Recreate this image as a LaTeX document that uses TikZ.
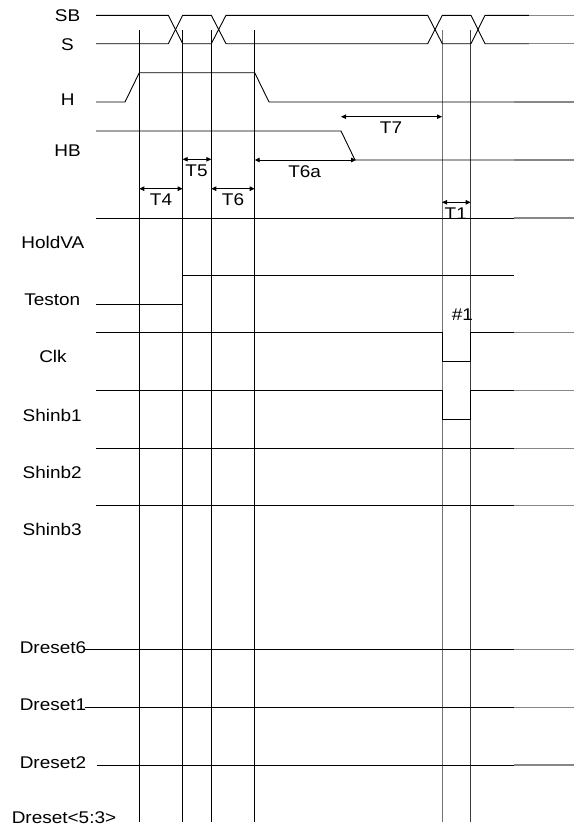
\documentclass[tikz,border=0pt]{standalone}
\usepackage{fontspec}
\setmainfont{Liberation Sans}[FakeStretch=1.12]
\usetikzlibrary{arrows.meta}
\definecolor{tailgray}{RGB}{135,135,135}
\definecolor{midgray}{RGB}{115,115,115}
\definecolor{darkg}{RGB}{60,60,60}
\begin{document}
\begin{tikzpicture}[x=1bp,y=-1bp,
  sig/.style={line width=0.9bp,black},
  tailseg/.style={line width=1.4bp,tailgray},
  vline/.style={line width=0.9bp},
  dimarrow/.style={line width=0.9bp,{Triangle[length=5bp,width=4.5bp]}-{Triangle[length=5bp,width=4.5bp]}},
  lbl/.style={anchor=base,inner sep=0pt,font=\fontsize{17}{20}\selectfont}]
\useasboundingbox (0,0) rectangle (574,827);
% vertical marker lines
\foreach \xx/\nm in {139.3/a,182.7/b,211.3/c,254.7/d}{
  \coordinate (v\nm top) at (\xx,30);
  \coordinate (v\nm bot) at (\xx,822);
  \draw[vline] (v\nm top) -- (v\nm bot);
}
\coordinate (vetop) at (442,30); \coordinate (vebot) at (442,822);
\coordinate (vftop) at (470.7,30); \coordinate (vfbot) at (470.7,822);
\draw[vline,midgray] (vetop) -- (vebot);
\draw[vline,darkg] (vftop) -- (vfbot);
% labels
\node[lbl] (lSB) at (67.5,21.5) {SB};
\node[lbl] (lS) at (67.5,50) {S};
\node[lbl] (lH) at (67.8,105) {H};
\node[lbl] (lHB) at (67.5,156) {HB};
\node[lbl] (lHoldVA) at (52.8,248.3) {HoldVA};
\node[lbl] (lTeston) at (52.2,305.4) {Teston};
\node[lbl] (lClk) at (53,362.4) {Clk};
\node[lbl] (lShinb1) at (52.2,421.1) {Shinb1};
\node[lbl] (lShinb2) at (52.2,478.6) {Shinb2};
\node[lbl] (lShinb3) at (52.2,535.8) {Shinb3};
\node[lbl] (lDreset6) at (53,653.1) {Dreset6};
\node[lbl] (lDreset1) at (53,710.1) {Dreset1};
\node[lbl] (lDreset2) at (53,768.3) {Dreset2};
\node[lbl] (lDreset53) at (64,823.5) {Dreset<5:3>};
% SB / S
\draw[sig] (96,15.3) -- (168.3,15.3) -- (182.7,43.7) -- (211.3,43.7) -- (226,15.3) -- (427.7,15.3) -- (442.3,43.7) -- (471,43.7) -- (485,15.3) -- (529,15.3);
\draw[sig] (96,43.7) -- (168.3,43.7) -- (182.7,15.3) -- (211.3,15.3) -- (226,43.7) -- (427.7,43.7) -- (442.3,15.3) -- (471,15.3) -- (485,43.7) -- (529,43.7);
\draw[tailseg] (529,15.3) -- (574,15.3);
\draw[tailseg] (529,43.7) -- (574,43.7);
% H
\draw[sig] (96,102) -- (125,102) -- (139.3,72.7) -- (254.7,72.7) -- (269,102) -- (514,102);
\draw[tailseg] (514,102) -- (574,102);
% HB
\draw[sig] (96,131) -- (341,131) -- (355,160) -- (514,160);
\draw[tailseg] (514,160) -- (574,160);
% dimension arrows
\draw[dimarrow] (254.7,160) -- (356,160);
\draw[dimarrow] (341,116.7) -- (442,116.7);
\draw[dimarrow] (182.7,159.3) -- (211.3,159.3);
\draw[dimarrow] (139.3,188.7) -- (182.7,188.7);
\draw[dimarrow] (211.3,188.7) -- (254.7,188.7);
\draw[dimarrow] (442,202.3) -- (470.7,202.3);
\node[lbl] (tT6a) at (304.7,177.6) {T6a};
\node[lbl] (tT7) at (391,133.4) {T7};
\node[lbl] (tT5) at (196.5,176.2) {T5};
\node[lbl] (tT4) at (161,205.8) {T4};
\node[lbl] (tT6) at (233,205.8) {T6};
\node[lbl] (tT1) at (455.8,219.1) {T1};
\node[lbl] (tN1) at (462.3,320.1) {\#1};
% HoldVA line
\draw[sig] (96,218) -- (514,218);
\draw[tailseg] (514,218) -- (574,218);
% Teston
\draw[sig] (96,304.3) -- (182.7,304.3) -- (182.7,275.3) -- (514,275.3);
% Clk
\draw[sig] (96,332.7) -- (442,332.7) -- (442,361.7) -- (470.7,361.7) -- (470.7,332.7) -- (514,332.7);
\draw[tailseg] (514,332.7) -- (574,332.7);
% Shinb1
\draw[sig] (96,390.7) -- (442,390.7) -- (442,419.3) -- (470.7,419.3) -- (470.7,390.7) -- (514,390.7);
\draw[tailseg] (514,390.7) -- (574,390.7);
% Shinb2, Shinb3
\draw[sig] (96,448.3) -- (514,448.3);
\draw[tailseg] (514,448.3) -- (574,448.3);
\draw[sig] (96,505.7) -- (514,505.7);
\draw[tailseg] (514,505.7) -- (574,505.7);
% Dreset lines
\draw[sig] (85,649.3) -- (514,649.3);
\draw[tailseg] (514,649.3) -- (574,649.3);
\draw[sig] (85,707.3) -- (514,707.3);
\draw[tailseg] (514,707.3) -- (574,707.3);
\draw[sig] (96.7,765) -- (514,765);
\draw[tailseg] (514,765) -- (574,765);
\end{tikzpicture}
\end{document}
